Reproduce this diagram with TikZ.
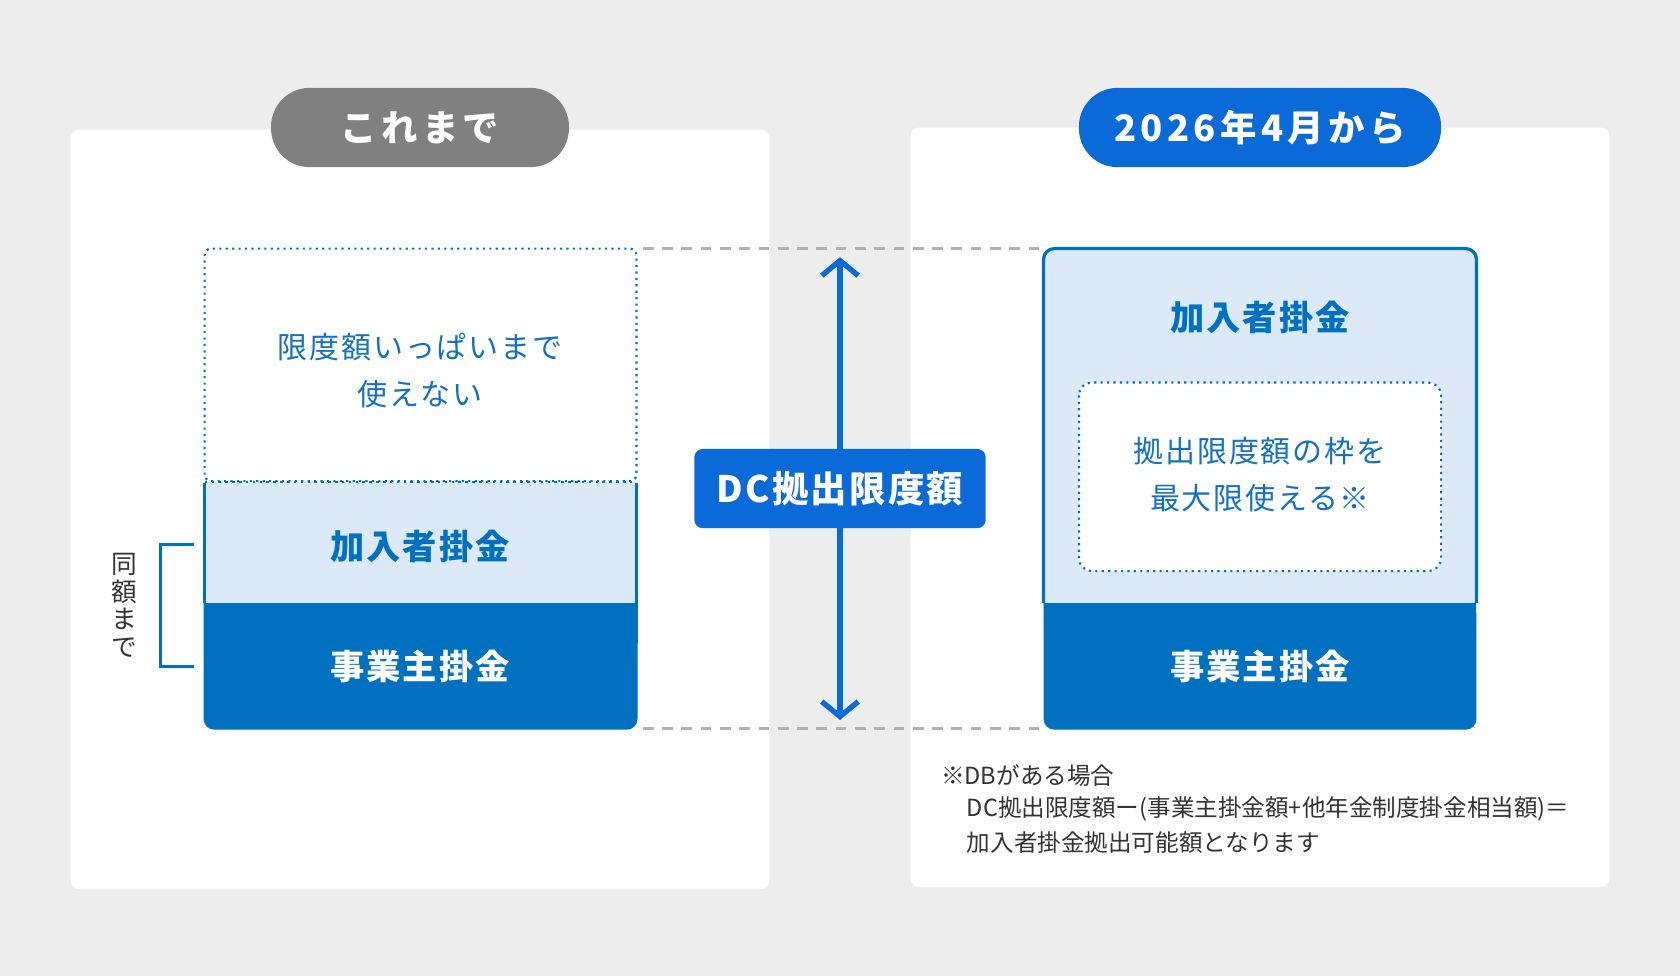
\documentclass[tikz,border=0pt]{standalone}
\usepackage{fontspec}
\setmainfont{Noto Sans CJK JP}
\usetikzlibrary{arrows.meta}
\definecolor{bg}{HTML}{EDEDED}
\definecolor{dblue}{HTML}{0070C0}
\definecolor{bblue}{HTML}{0A6AD8}
\definecolor{lblue}{HTML}{DCE9F6}
\definecolor{tblue}{HTML}{1470C0}
\definecolor{pgray}{HTML}{808080}
\definecolor{ntext}{HTML}{333333}
\definecolor{dgray}{HTML}{B0B0B0}
\newcommand{\fs}[1]{\fontsize{#1}{#1}\selectfont}
\newcommand{\ls}[1]{\addfontfeatures{LetterSpace=#1}}
\tikzset{
 panel/.style={fill=white,rounded corners=4pt},
 pill/.style={rounded corners=18pt},
 head/.style={text=white,font=\fs{17}\bfseries\ls{12}},
 btxt/.style={text=tblue,font=\fs{14}\ls{6}},
 bold/.style={font=\fs{16}\bfseries\ls{6}},
 gdash/.style={dgray,line width=1.5pt,dash pattern=on 5pt off 4pt},
}
\begin{document}
\begin{tikzpicture}[x=0.5pt,y=-0.5pt]
\useasboundingbox[fill=bg] (0,0) rectangle (1568,911);
\fill[panel] (66,121) rectangle (718,830);
\fill[panel] (850,119) rectangle (1502,828);
\fill[pgray,pill] (253,82) rectangle (531,156);
\node[head] (h1) at (392,119) {これまで};
\fill[bblue,pill] (1007,82) rectangle (1345,156);
\node[head] (h2) at (1176,119) {2026年4月から};
% dashed guides
\draw[gdash] (600,232) -- (970,232);
\draw[gdash] (600,680) -- (970,680);
% left
\draw[dblue,line width=1pt,dotted,rounded corners=3pt] (191,449) -- (191,232) -- (594,232) -- (594,449) -- cycle;
\node[btxt,align=center] (l1) at (392,346) {限度額いっぱいまで\\[8pt]使えない};
\fill[lblue] (191,450) rectangle (594,563);
\draw[dblue,line width=1.2pt] (191,563) -- (191,451) (594,451) -- (594,563);
\draw[dblue,line width=1.2pt,dotted] (191,450) -- (594,450);
\node[bold,text=dblue] (l2) at (392,510) {加入者掛金};
\fill[dblue,rounded corners=5pt] (190,563) -- (190,681) -- (595,681) -- (595,563) [sharp corners] -- cycle;
\fill[dblue] (190,563) rectangle (595,600);
\node[bold,text=white] (l3) at (392,622) {事業主掛金};
\draw[dblue,line width=1.3pt] (181,508) -- (150,508) -- (150,622) -- (181,622);
\node[text=ntext,font=\fs{12},align=center,inner sep=0] (v) at (116,565) {同\\[1pt]額\\[1pt]ま\\[1pt]で};
% arrow
\coordinate (at) at (784,240);
\coordinate (ab) at (784,672);
\draw[bblue,line width=2.5pt,{Straight Barb[length=7pt,width=17pt]}-{Straight Barb[length=7pt,width=17pt]}] (at) -- (ab);
\fill[bblue,rounded corners=4pt] (648,419) rectangle (920,493);
\node[head,font=\fs{17}\bfseries\ls{6}] (dc) at (784,456) {DC拠出限度額};
% right
\fill[lblue,rounded corners=5pt] (974,232) rectangle (1378,600);
\fill[dblue,rounded corners=5pt] (974,563) -- (974,681) -- (1378,681) -- (1378,563) [sharp corners] -- cycle;
\fill[dblue] (974,563) rectangle (1378,600);
\draw[dblue,line width=1.5pt,rounded corners=5pt] (974,563) -- (974,232) -- (1378,232) -- (1378,563);
\node[bold,text=dblue] (r1) at (1176,296) {加入者掛金};
\draw[dblue,line width=1pt,dotted,fill=white,rounded corners=6pt] (1007,357) rectangle (1345,533);
\node[btxt,align=center] (r2) at (1176,443) {拠出限度額の枠を\\[8pt]最大限使える※};
\node[bold,text=white] (r3) at (1176,622) {事業主掛金};
% note
\node[text=ntext,font=\fs{11},anchor=west,align=left,inner sep=0] (n) at (878,755) {※DBがある場合\\[4pt]\hspace{12pt}DC拠出限度額ー(事業主掛金額+他年金制度掛金相当額)＝\\[4pt]\hspace{12pt}加入者掛金拠出可能額となります};
\end{tikzpicture}
\end{document}
